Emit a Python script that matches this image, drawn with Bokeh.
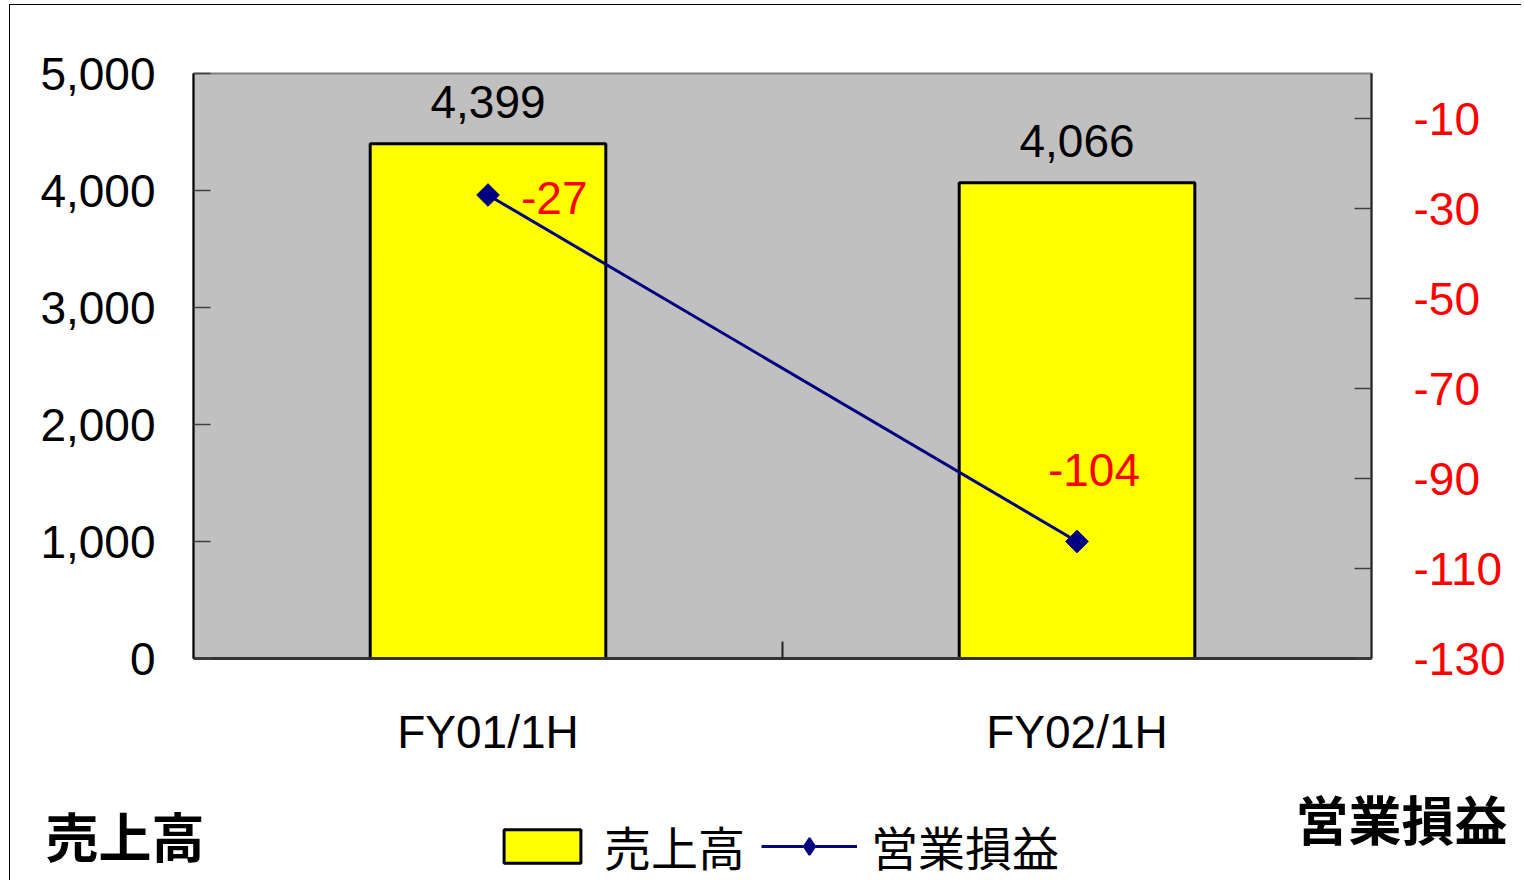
import math
from bokeh.plotting import figure
from bokeh.layouts import column
from bokeh.models import (Range1d, LinearAxis, FixedTicker, NumeralTickFormatter,
                          Legend, LegendItem, Label)
from bokeh.core.properties import value
from bokeh.embed import file_html
from bokeh.resources import INLINE

# ---- data ----
categories = ["FY01/1H", "FY02/1H"]
sales = [4399, 4066]
op_income = [-27, -104]
sales_ticks = [0, 1000, 2000, 3000, 4000, 5000]
op_ticks = [-130, -110, -90, -70, -50, -30, -10]
sales_range = (0, 5000)
op_range = (-130, 0)
sales_label = "売上高"
op_label = "営業損益"

NUM_FONT = "Liberation Sans"
CJK = "Noto Sans CJK JP"
NUM_SIZE = "46px"
BAR_COLOR = "#FFFF00"
LINE_COLOR = "#000080"

xs = [i + 0.5 for i in range(len(categories))]
bounds = [float(i) for i in range(1, len(categories))]

p = figure(width=1512, height=755, output_backend="svg", toolbar_location=None,
           x_range=Range1d(0, len(categories)), y_range=Range1d(*sales_range),
           min_border_left=183, min_border_right=151, min_border_top=68,
           min_border_bottom=100, x_axis_location=None, y_axis_location=None)
p.frame_align = False
p.background_fill_color = "#C0C0C0"
p.border_fill_color = "white"
p.outline_line_color = "#808080"
p.outline_line_width = 2
p.styles = {"border-top": "1px solid black", "border-left": "1px solid black"}
p.extra_y_ranges = {"op": Range1d(*op_range)}

bar_style = dict(fill_color=BAR_COLOR, line_color="black", line_width=3)
line_style = dict(line_color=LINE_COLOR, line_width=3)
mark_style = dict(marker="square", angle=math.pi / 4, size=16,
                  fill_color=LINE_COLOR, line_color=LINE_COLOR)

p.vbar(x=xs, top=sales, bottom=0, width=0.4, **bar_style)
p.line(xs, op_income, y_range_name="op", **line_style)
p.scatter(xs, op_income, y_range_name="op", **mark_style)

# value labels on bars
p.text(x=xs, y=sales, text=[f"{v:,}" for v in sales], y_offset=-42,
       text_align="center", text_baseline="middle", text_color="black",
       text_font=value(NUM_FONT), text_font_size=NUM_SIZE)
# value labels on line points
p.text(x=xs[:1], y=op_income[:1], text=[str(v) for v in op_income[:1]], y_range_name="op",
       x_offset=33, y_offset=3, text_align="left", text_baseline="middle",
       text_color="red", text_font=value(NUM_FONT), text_font_size=NUM_SIZE)
p.text(x=xs[1:], y=op_income[1:], text=[str(v) for v in op_income[1:]], y_range_name="op",
       x_offset=17, y_offset=-72, text_align="center", text_baseline="middle",
       text_color="red", text_font=value(NUM_FONT), text_font_size=NUM_SIZE)

# axes
yl = LinearAxis(ticker=FixedTicker(ticks=sales_ticks), formatter=NumeralTickFormatter(format="0,0"))
yl.major_tick_in = 17
yl.major_tick_out = 0
yl.minor_tick_line_color = None
yl.axis_line_color = "black"
yl.axis_line_width = 2
yl.major_tick_line_color = "#404040"
yl.major_tick_line_width = 1.5
yl.major_label_text_font = NUM_FONT
yl.major_label_text_font_size = NUM_SIZE
yl.major_label_text_color = "black"
yl.major_label_standoff = 38
p.add_layout(yl, "left")

yr = LinearAxis(y_range_name="op", ticker=FixedTicker(ticks=op_ticks))
yr.major_label_overrides = {t: str(t) for t in op_ticks}
yr.major_tick_in = 17
yr.major_tick_out = 0
yr.minor_tick_line_color = None
yr.axis_line_color = "#222222"
yr.axis_line_width = 2
yr.major_tick_line_color = "#404040"
yr.major_tick_line_width = 1.5
yr.major_label_text_font = NUM_FONT
yr.major_label_text_font_size = NUM_SIZE
yr.major_label_text_color = "red"
yr.major_label_standoff = 42
p.add_layout(yr, "right")

xb = LinearAxis(ticker=FixedTicker(ticks=xs, minor_ticks=bounds))
xb.major_label_overrides = {x: c for x, c in zip(xs, categories)}
xb.major_tick_line_color = None
xb.major_tick_in = 0
xb.major_tick_out = 0
xb.minor_tick_in = 17
xb.minor_tick_out = 0
xb.minor_tick_line_color = "#222222"
xb.minor_tick_line_width = 2
xb.axis_line_color = "#333333"
xb.axis_line_width = 3
xb.major_label_text_font = NUM_FONT
xb.major_label_text_font_size = NUM_SIZE
xb.major_label_text_color = "black"
xb.major_label_standoff = 47
p.add_layout(xb, "below")

p.xgrid.visible = False
p.ygrid.visible = False

# ---- bottom strip: legend and axis titles ----
p2 = figure(width=1512, height=121, output_backend="svg", toolbar_location=None,
            x_range=Range1d(0, 1), y_range=Range1d(0, 1),
            min_border=0, x_axis_location=None, y_axis_location=None)
p2.frame_align = False
p2.outline_line_color = None
p2.background_fill_color = "white"
p2.border_fill_color = "white"
p2.styles = {"border-left": "1px solid black"}
p2.xgrid.visible = False
p2.ygrid.visible = False

# legend proxies (hidden copies of the series, used only for the legend swatches)
leg_bar = p2.vbar(x=xs, top=sales, width=0.4, visible=False, **bar_style)
leg_line = p2.line(xs, op_income, visible=False, **line_style)
leg_mark = p2.scatter(xs, op_income, visible=False, marker="diamond", size=16,
                      fill_color=LINE_COLOR, line_color=LINE_COLOR, line_width=2)

legend = Legend(items=[LegendItem(label=sales_label, renderers=[leg_bar]),
                       LegendItem(label=op_label, renderers=[leg_line, leg_mark])],
                orientation="horizontal", location=(484, 0))
legend.glyph_width = 96
legend.glyph_height = 42
legend.label_text_font = CJK
legend.label_text_font_size = "47px"
legend.label_text_color = "black"
legend.label_standoff = 14
legend.spacing = 16
legend.padding = 0
legend.margin = 0
legend.border_line_color = None
legend.background_fill_alpha = 0
legend.click_policy = "none"
p2.add_layout(legend)

p2.add_layout(Label(x=35, y=46, x_units="screen", y_units="screen", text=sales_label,
                    text_font=CJK, text_font_style="bold", text_font_size="53px",
                    text_baseline="middle", text_align="left", text_color="black"))
p2.add_layout(Label(x=1497, y=63, x_units="screen", y_units="screen", text=op_label,
                    text_font=CJK, text_font_style="bold", text_font_size="53px",
                    text_baseline="middle", text_align="right", text_color="black"))

layout = column(p, p2, spacing=0)
layout.styles = {"margin-left": "9px", "margin-top": "4px"}

open("out.html", "w").write(file_html(layout, INLINE))
